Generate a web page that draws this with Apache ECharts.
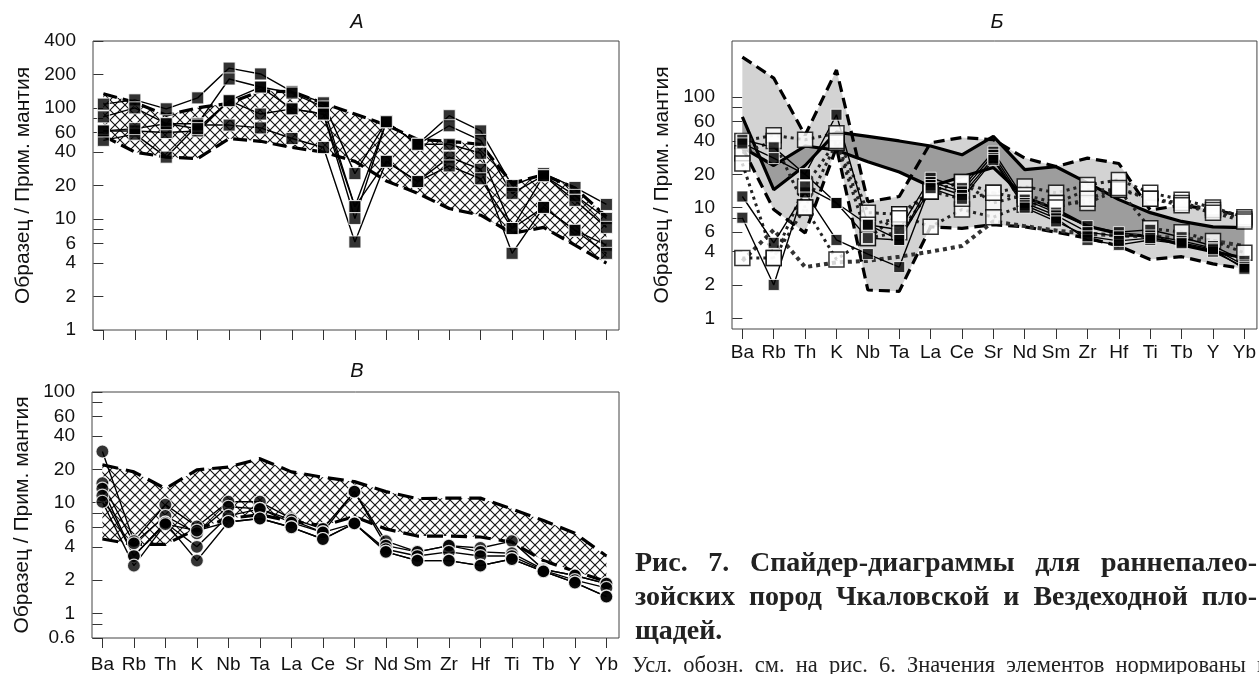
<!DOCTYPE html>
<html>
<head>
<meta charset="utf-8">
<script src="https://cdn.jsdelivr.net/npm/echarts@6/dist/echarts.min.js"></script>
<style>
html, body { margin: 0; padding: 0; background: #fff; overflow: hidden; }
#main { position: absolute; left: 0; top: 0; width: 1259px; height: 674px; }
.cap { position: absolute; left: 635px; width: 622px; font-family: 'Liberation Serif', 'Times New Roman', serif; color: #222; text-align: justify; text-align-last: justify; }
.b { font-weight: bold; font-size: 28px; line-height: 34px; }
</style>
</head>
<body>
<div id="main"></div>
<div class="cap b" style="top:545px">Рис. 7. Спайдер-диаграммы для раннепалео-</div>
<div class="cap b" style="top:579px">зойских пород Чкаловской и Вездеходной пло-</div>
<div class="cap b" style="top:613px; text-align-last:left">щадей.</div>
<div class="cap" style="top:652px; left:632px; width:636px; font-size:22.5px; line-height:26px">Усл. обозн. см. на рис. 6. Значения элементов нормированы к</div>
<script>
const elements = ['Ba','Rb','Th','K','Nb','Ta','La','Ce','Sr','Nd','Sm','Zr','Hf','Ti','Tb','Y','Yb'];

// panel А: hatched field + samples (black squares)
const aUpper = [134, 112, 86, 100, 110, 142, 140, 110, 88, 70, 52, 50, 47, 21, 25, 19, 10.5];
const aLower = [56, 40, 36, 35, 53, 50, 44, 40, 33, 22, 17, 12.4, 10.8, 7.4, 8.4, 5.8, 4];
const a1 = [108, 118, 98, 123, 228, 202, 140, 111, 25.6, 75, 47, 85, 62, 20, 25.6, 19.2, 13.5];
const a2 = [83, 100, 72, 72, 182, 154, 136, 102, 12.9, 75, 47, 69, 51, 17, 24.5, 16.3, 10.1];
const a3 = [62, 62, 60, 62, 116, 88, 98, 88, 10.1, 75, 47, 47, 39, 8.2, 24.5, 14.7, 8.4];
const a4 = [51, 58, 36, 70, 70, 66, 53, 44, 6.2, 33, 21.7, 36, 28, 4.9, 12.7, 7.9, 5.8];
const a5 = [62, 65, 72, 65, 116, 154, 98, 88, 12.9, 33, 21.7, 30, 23, 8.2, 12.7, 7.9, 4.9];

// panel Б: light field (dashed), dark field (solid), samples
const bLightUp = [229, 148, 45, 175, 11.3, 12.6, 38.5, 43, 41, 28, 23.5, 28, 25, 9.5, 10.5, 9.6, 8.3];
const bLightLow = [35, 9.6, 5.9, 35, 1.8, 1.75, 6.7, 6.5, 7, 6.7, 6, 5.3, 4.5, 3.4, 3.6, 3.1, 2.8];
const bDarkA = [66, 14.5, 24, 48, 44, 40, 36, 30, 44, 22, 23.4, 16.7, 11.8, 9, 7.5, 6.7, 6.6];
const bDarkB = [35, 24, 36, 33, 26, 21, 15.5, 19, 23, 12.5, 9.6, 6.8, 5.8, 5.5, 4.6, 4.0, 3.5];
const bDotLow = [3.3, 6.3, 2.9, 3.2, 3.3, 3.6, 4.0, 4.5, 7.5, 6.8, 6.2, 5.8, 5.6, 5.5, 5.3, 5.0, 4.5];
const k1 = [41, 35, 20, 69, 7, 6.3, 18.6, 15, 32, 11.8, 9, 6.8, 6, 6.3, 5.4, 4.5, 3.3];
const k2 = [38, 28, 20, 11, 5.3, 5.1, 17, 14, 30, 11, 8.5, 6.0, 5.5, 5.6, 5.0, 4.3, 3.0];
const k3 = [12.6, 4.8, 13.7, 5.1, 3.8, 2.9, 16, 13, 28, 10.5, 8, 5.1, 4.6, 5.1, 4.7, 4.0, 2.9];
const k4 = [8.1, 2.0, 15.5, 11, 7, 5.1, 15, 12, 27, 10, 7.5, 5.5, 5, 5.3, 4.8, 4.2, 2.8];
const w1 = [40, 45, 41, 47, 9, 8.7, 14, 17, 13.6, 15.5, 13.6, 16, 17.8, 13.6, 11.8, 10, 8.2];
const w2 = [31, 40, 10, 38.5, 5.3, 6.0, 14, 17, 11, 13, 11, 14.5, 14.5, 12, 11, 9.5, 7.8];
const w3 = [25, 3.5, 10, 3.4, 5.3, 8.7, 6.7, 9.6, 8.2, 10.6, 11, 11, 14.5, 6.5, 6, 5, 3.9];
const w4 = [3.5, 3.5, 15.5, 40, 7, 8, 14, 12, 13.6, 12, 10, 12, 15, 12, 10.5, 9, 7.5];

// panel В: hatched field + samples (black circles)
const vUpper = [22, 19, 13.4, 19.8, 21, 25, 19, 17, 15.5, 12.6, 10.9, 11, 11, 8.8, 6.9, 5.3, 3.3];
const vLower = [4.7, 4.2, 4.2, 5.8, 7.2, 7.8, 6.8, 6.2, 7.5, 5.8, 5.0, 5.0, 4.9, 4.4, 3.0, 2.4, 1.94];
const v1 = [29, 4.5, 9.6, 6.1, 10.2, 10.2, 7.2, 5.8, 12.6, 4.5, 3.6, 4.1, 3.9, 4.5, 2.5, 2.2, 1.86];
const v2 = [15, 4.3, 7.6, 5.3, 9.2, 8.8, 7.0, 5.4, 12.6, 4.1, 3.6, 4.1, 3.6, 3.5, 2.5, 2.2, 1.86];
const v3 = [13.4, 3.3, 6.6, 4.0, 7.6, 8.8, 6.6, 5.4, 6.5, 3.8, 3.3, 3.6, 3.3, 3.3, 2.45, 2.0, 1.7];
const v4 = [11.6, 3.3, 6.6, 3.0, 6.7, 7.2, 6.0, 4.7, 6.5, 3.6, 3.0, 3.0, 2.7, 3.1, 2.4, 1.9, 1.42];
const v5 = [10.2, 2.7, 6.4, 5.6, 6.7, 7.2, 6.0, 4.7, 6.5, 3.6, 3.0, 3.0, 2.7, 3.1, 2.4, 1.9, 1.42];

// tick values
const aLabels = [1, 2, 4, 6, 10, 20, 40, 60, 100, 200, 400];
const aTicks = [1, 2, 4, 6, 8, 10, 20, 40, 60, 80, 100, 200, 400];
const bLabels = [1, 2, 4, 6, 10, 20, 40, 60, 100];
const bTicks = [1, 2, 4, 6, 8, 10, 20, 40, 60, 80, 100];
const vLabels = [0.6, 1, 2, 4, 6, 10, 20, 40, 60, 100];
const vTicks = [0.6, 0.8, 1, 2, 4, 6, 8, 10, 20, 40, 60, 80, 100];

const idx = elements.map((e, i) => i);
const pts = arr => arr.map((v, i) => [i, v]);

// cross-hatch pattern
function hatch() {
    let c = document.createElement('canvas');
    c.width = 10; c.height = 10;
    let g = c.getContext('2d');
    g.fillStyle = '#fff';
    g.fillRect(0, 0, 10, 10);
    g.strokeStyle = '#111';
    g.lineWidth = 1.1;
    g.beginPath();
    g.moveTo(-1, -1); g.lineTo(11, 11);
    g.moveTo(11, -1); g.lineTo(-1, 11);
    g.stroke();
    return c;
}
const hatchFill = { image: hatch(), repeat: 'repeat' };

function xAxisFor(gi, showLabels, margin) {
    return {
        type: 'value', gridIndex: gi, min: -0.33, max: 16.4,
        axisLine: { show: false }, splitLine: { show: false },
        axisTick: { show: true, customValues: idx, length: 10, lineStyle: { color: '#333', width: 1 } },
        axisLabel: { show: showLabels, customValues: idx, formatter: v => elements[Math.round(v)], fontSize: 19, color: '#111', margin: margin }
    };
}

function yAxisFor(gi, min, max, labels, ticks) {
    return {
        type: 'log', logBase: 10, gridIndex: gi, min: min, max: max,
        axisLine: { show: false }, splitLine: { show: false },
        axisTick: { show: true, customValues: ticks, length: 10, lineStyle: { color: '#333', width: 1 } },
        axisLabel: { customValues: labels, fontSize: 19, color: '#111', margin: 17 },
        name: 'Образец / Прим. мантия', nameLocation: 'middle', nameGap: 59,
        nameTextStyle: { fontSize: 21, color: '#111' }
    };
}

function band(gi, upper, lower, fill, z) {
    return {
        type: 'custom', xAxisIndex: gi, yAxisIndex: gi, z: z, silent: true,
        data: [[0, upper[0]]],
        renderItem: function (params, api) {
            let p = [];
            upper.forEach((v, i) => p.push(api.coord([i, v])));
            for (let i = lower.length - 1; i >= 0; i--) p.push(api.coord([i, lower[i]]));
            return { type: 'polygon', shape: { points: p }, style: { fill: fill, stroke: null } };
        }
    };
}

function line(gi, arr, style, z) {
    return {
        type: 'line', xAxisIndex: gi, yAxisIndex: gi, data: pts(arr), symbol: 'none',
        lineStyle: style, z: z, silent: true
    };
}

function marks(gi, list, symbol, size, item, z) {
    let d = [];
    list.forEach(arr => arr.forEach((v, i) => d.push([i, v])));
    return {
        type: 'scatter', xAxisIndex: gi, yAxisIndex: gi, data: d, symbol: symbol,
        symbolSize: size, itemStyle: item, z: z, silent: true
    };
}

const thin = { color: '#000', width: 1.4 };
const series = [];

// А
series.push(band(0, aUpper, aLower, hatchFill, 1));
series.push(line(0, aUpper, { color: '#000', width: 3.2, type: [14, 6] }, 3));
series.push(line(0, aLower, { color: '#000', width: 3.2, type: [14, 6] }, 3));
[a1, a2, a3, a4, a5].forEach(a => series.push(line(0, a, thin, 4)));
series.push(marks(0, [a1, a2, a3, a4, a5], 'rect', 12, { color: '#000', borderColor: '#fff', borderWidth: 1 }, 6));

// Б
series.push(band(1, bLightUp, bLightLow, '#d3d3d3', 1));
series.push(band(1, bDarkA, bDarkB, '#9d9d9d', 2));
series.push(line(1, bLightUp, { color: '#000', width: 3.2, type: [11, 6] }, 3));
series.push(line(1, bLightLow, { color: '#000', width: 3.2, type: [11, 6] }, 3));
series.push(line(1, bDarkA, { color: '#000', width: 3.2 }, 3));
series.push(line(1, bDarkB, { color: '#000', width: 3.2 }, 3));
series.push(line(1, bDotLow, { color: '#333', width: 4, type: [4, 4] }, 4));
[w1, w2, w3, w4].forEach(a => series.push(line(1, a, { color: '#222', width: 3, type: [3, 4] }, 4)));
[k1, k2, k3, k4].forEach(a => series.push(line(1, a, thin, 4)));
series.push(marks(1, [w1, w2, w3, w4], 'rect', 15, { color: '#fff', borderColor: '#000', borderWidth: 1.5 }, 6));
series.push(marks(1, [k1, k2, k3, k4], 'rect', 11, { color: '#000', borderColor: '#fff', borderWidth: 1 }, 7));

// В
series.push(band(2, vUpper, vLower, hatchFill, 1));
series.push(line(2, vUpper, { color: '#000', width: 3.2, type: [16, 8] }, 3));
series.push(line(2, vLower, { color: '#000', width: 3.2, type: [16, 8] }, 3));
[v1, v2, v3, v4, v5].forEach(a => series.push(line(2, a, thin, 4)));
series.push(marks(2, [v1, v2, v3, v4, v5], 'circle', 13, { color: '#000', borderColor: '#fff', borderWidth: 1.2 }, 6));

let chart = echarts.init(document.getElementById('main'));
let option = {
    animation: false,
    textStyle: { fontFamily: "'Liberation Sans', Arial, sans-serif" },
    grid: [
        { left: 93, top: 41, width: 526, height: 289, show: true, borderColor: '#444', borderWidth: 1 },
        { left: 732, top: 41, width: 526, height: 288, show: true, borderColor: '#444', borderWidth: 1 },
        { left: 92, top: 392, width: 527, height: 246, show: true, borderColor: '#444', borderWidth: 1 }
    ],
    xAxis: [xAxisFor(0, false, 17), xAxisFor(1, true, 14), xAxisFor(2, true, 17)],
    yAxis: [
        yAxisFor(0, 1, 400, aLabels, aTicks),
        yAxisFor(1, 0.8, 320, bLabels, bTicks),
        yAxisFor(2, 0.6, 100, vLabels, vTicks)
    ],
    graphic: [
        { type: 'text', x: 357, y: 22, style: { text: 'А', font: "italic 20px 'Liberation Sans', Arial", fill: '#111', textAlign: 'center', textVerticalAlign: 'middle' } },
        { type: 'text', x: 997, y: 22, style: { text: 'Б', font: "italic 20px 'Liberation Sans', Arial", fill: '#111', textAlign: 'center', textVerticalAlign: 'middle' } },
        { type: 'text', x: 357, y: 371, style: { text: 'В', font: "italic 20px 'Liberation Sans', Arial", fill: '#111', textAlign: 'center', textVerticalAlign: 'middle' } }
    ],
    series: series
};
chart.setOption(option);
</script>
</body>
</html>
